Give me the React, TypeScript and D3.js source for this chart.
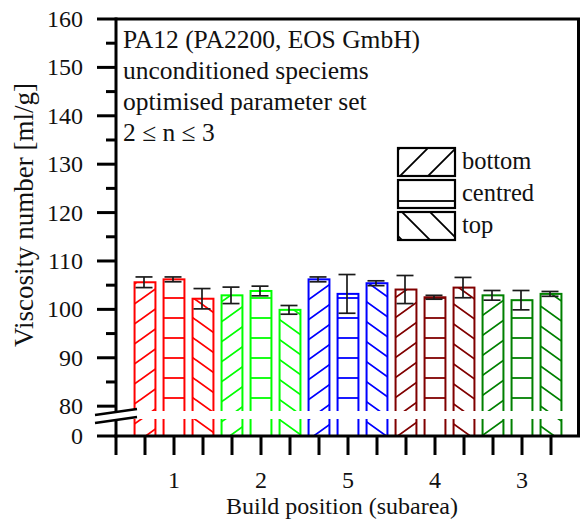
import * as d3 from "d3";

// Build positions (subareas) in plotted order and their colours
const GROUPS = ["1", "2", "5", "4", "3"];
const GROUP_COLORS = ["#ff0000", "#00ff00", "#0000ff", "#800000", "#008000"];

// Specimen position in the build chamber
const POSITIONS = ["bottom", "centred", "top"];

// Viscosity number [ml/g] per group, one array per position
const BOTTOM_MEAN = [105.6, 102.9, 106.2, 104.1, 102.9];
const CENTRED_MEAN = [106.2, 103.8, 103.2, 102.5, 101.9];
const TOP_MEAN = [102.2, 99.9, 105.4, 104.5, 103.2];

const BOTTOM_ERR = [1.1, 1.7, 0.5, 2.9, 1.0];
const CENTRED_ERR = [0.5, 1.0, 4.0, 0.4, 2.0];
const TOP_ERR = [2.1, 0.9, 0.5, 2.1, 0.5];

const Y_TICKS = [0, 80, 90, 100, 110, 120, 130, 140, 150, 160];
const Y_MINOR = [85, 95, 105, 115, 125, 135, 145, 155];

const INFO_LINES = [
  "PA12 (PA2200, EOS GmbH)",
  "unconditioned speciems",
  "optimised parameter set",
  "2 \u2264 n \u2264 3",
];

const FONT = "'Liberation Serif', 'Times New Roman', serif";
const W = 581;
const H = 522;

const MEANS = [BOTTOM_MEAN, CENTRED_MEAN, TOP_MEAN];
const ERRS = [BOTTOM_ERR, CENTRED_ERR, TOP_ERR];

// hatch tile paths (28 x 20 tile)
const HATCH: Record<string, string> = {
  bottom: "M-28,40 L56,-20 M-28,20 L28,-20 M0,40 L56,0",
  centred: "M-2,18 L30,18",
  top: "M-28,-20 L56,40 M-28,0 L28,40 M0,-20 L56,20",
};
// legend tiles (28 x 28, 45 deg)
const LEGEND_HATCH: Record<string, string> = {
  bottom: "M-28,56 L56,-28 M-28,28 L28,-28 M0,56 L56,0",
  centred: "M-2,21 L30,21",
  top: "M-28,-28 L56,56 M-28,0 L28,56 M0,-28 L56,28",
};

export default function App() {
  const left = 116;
  const right = 580;
  const top = 19;
  const bottom = 436;

  const x = d3.scaleLinear().domain([0, 16]).range([left, right]);
  // broken axis: 0 at the baseline, 80..160 above the break
  const y = d3.scaleLinear().domain([0, 79, 160]).range([bottom, 411, top]);

  const step = x(1) - x(0);
  const barW = step * 0.72;
  const capW = 17;

  const gapTop = y(79);
  const gapBottom = gapTop + 8;

  const bars = GROUPS.flatMap((g, gi) =>
    POSITIONS.map((p, pi) => ({
      key: `${g}-${p}`,
      slot: gi * 3 + pi + 1,
      color: GROUP_COLORS[gi],
      colorIdx: gi,
      pos: p,
      mean: MEANS[pi][gi],
      err: ERRS[pi][gi],
    }))
  );

  const xTicks = d3.range(0, 16);
  const groupLabelSlots = GROUPS.map((_, gi) => gi * 3 + 2);

  const legendX = 398;
  const legendY = 148;
  const legendRow = 32;
  const legendBoxW = 57;
  const legendBoxH = 28;

  return (
    <svg
      width={W}
      height={H}
      viewBox={`0 0 ${W} ${H}`}
      style={{ position: "absolute", left: 0, top: 0, background: "#fff" }}
    >
      <defs>
        {GROUP_COLORS.map((c, ci) =>
          POSITIONS.map((p) => (
            <pattern
              key={`pat-${ci}-${p}`}
              id={`pat-${ci}-${p}`}
              patternUnits="userSpaceOnUse"
              width={28}
              height={20}
            >
              <path d={HATCH[p]} stroke={c} strokeWidth={1.8} fill="none" />
            </pattern>
          ))
        )}
        {POSITIONS.map((p, pi) => (
          <pattern
            key={`leg-${p}`}
            id={`leg-${p}`}
            patternUnits="userSpaceOnUse"
            x={legendX + (p === "top" ? 4 : 2)}
            y={legendY + pi * legendRow}
            width={28}
            height={28}
          >
            <path d={LEGEND_HATCH[p]} stroke="#000" strokeWidth={1.8} fill="none" />
          </pattern>
        ))}
      </defs>

      <rect x={0} y={0} width={W} height={H} fill="#fff" />

      {/* bars */}
      {bars.map((b) => (
        <rect
          key={b.key}
          x={x(b.slot) - barW / 2}
          y={y(b.mean)}
          width={barW}
          height={y(0) - y(b.mean)}
          fill={`url(#pat-${b.colorIdx}-${b.pos})`}
          stroke={b.color}
          strokeWidth={2}
        />
      ))}

      {/* axis break gap through the bars */}
      <rect x={left + 2} y={gapTop} width={right - left - 5} height={gapBottom - gapTop} fill="#fff" />

      {/* error bars */}
      {bars.map((b) => {
        const cx = x(b.slot) - 1;
        const y1 = y(b.mean + b.err);
        const y2 = y(b.mean - b.err);
        return (
          <g key={`e-${b.key}`} stroke="#1a1a1a" strokeWidth={1.7}>
            <line x1={cx} x2={cx} y1={y1} y2={y2} />
            <line x1={cx - capW / 2} x2={cx + capW / 2} y1={y1} y2={y1} />
            <line x1={cx - capW / 2} x2={cx + capW / 2} y1={y2} y2={y2} />
          </g>
        );
      })}

      {/* frame */}
      <g stroke="#000" strokeWidth={3} fill="none">
        <line x1={left} x2={right} y1={top} y2={top} />
        <line x1={right - 1.5} x2={right - 1.5} y1={top} y2={bottom} />
        <line x1={left} x2={left} y1={top - 1.5} y2={bottom + 1.5} />
        <line x1={left - 1.5} x2={right} y1={bottom} y2={bottom} />
      </g>

      {/* y ticks */}
      {Y_TICKS.map((t) => (
        <g key={`yt-${t}`}>
          <line x1={left - 19} x2={left} y1={y(t)} y2={y(t)} stroke="#000" strokeWidth={3} />
          <text
            x={83}
            y={y(t) + 8}
            textAnchor="end"
            fontFamily={FONT}
            fontSize={24}
            fill="#111"
          >
            {t}
          </text>
        </g>
      ))}
      {Y_MINOR.map((t) => (
        <line key={`ym-${t}`} x1={left - 10} x2={left} y1={y(t)} y2={y(t)} stroke="#000" strokeWidth={3} />
      ))}

      {/* axis break marks */}
      <polygon
        points={`${left - 21},${gapTop + 4} ${left + 21},${gapTop - 2} ${left + 21},${gapBottom - 2} ${left - 21},${gapBottom + 4}`}
        fill="#fff"
      />
      <g stroke="#000" strokeWidth={2.5}>
        <line x1={left - 21} x2={left + 21} y1={gapTop + 4} y2={gapTop - 2} />
        <line x1={left - 21} x2={left + 21} y1={gapBottom + 4} y2={gapBottom - 2} />
      </g>

      {/* x ticks */}
      {xTicks.map((t) => (
        <line key={`xt-${t}`} x1={x(t)} x2={x(t)} y1={bottom} y2={bottom + 19} stroke="#000" strokeWidth={3} />
      ))}
      {groupLabelSlots.map((s, gi) => (
        <text
          key={`xl-${gi}`}
          x={x(s)}
          y={488}
          textAnchor="middle"
          fontFamily={FONT}
          fontSize={24}
          fill="#111"
        >
          {GROUPS[gi]}
        </text>
      ))}

      {/* axis titles */}
      <text x={342} y={514} textAnchor="middle" fontFamily={FONT} fontSize={24} fill="#111">
        Build position (subarea)
      </text>
      <text
        transform={`translate(33,215) rotate(-90)`}
        textAnchor="middle"
        fontFamily={FONT}
        fontSize={27}
        fill="#111"
      >
        Viscosity number [ml/g]
      </text>

      {/* info text */}
      {INFO_LINES.map((l, i) => (
        <text key={`info-${i}`} x={123} y={48 + i * 31} fontFamily={FONT} fontSize={25.5} fill="#111">
          {l}
        </text>
      ))}

      {/* legend */}
      {POSITIONS.map((p, pi) => {
        const by = legendY + pi * legendRow;
        return (
          <g key={`lg-${p}`}>
            <rect x={legendX} y={by} width={legendBoxW} height={legendBoxH} fill="#fff" />
            <rect
              x={legendX}
              y={by}
              width={legendBoxW}
              height={legendBoxH}
              fill={`url(#leg-${p})`}
              stroke="#000"
              strokeWidth={2.2}
            />
            <text x={462} y={by + 21} fontFamily={FONT} fontSize={24.5} fill="#111">
              {p}
            </text>
          </g>
        );
      })}
    </svg>
  );
}
